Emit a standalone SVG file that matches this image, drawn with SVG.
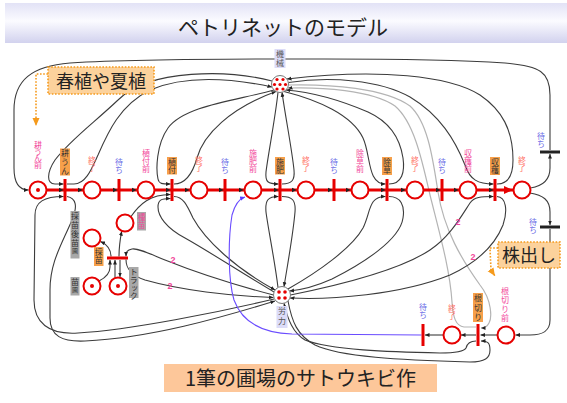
<svg xmlns="http://www.w3.org/2000/svg" width="567" height="403" viewBox="0 0 567 403">
<defs>
<linearGradient id="tg" x1="0" y1="0" x2="0" y2="1"><stop offset="0" stop-color="#e2e2f6"/><stop offset="0.45" stop-color="#fbfbff"/><stop offset="1" stop-color="#d2d2ee"/></linearGradient>
<marker id="ah" viewBox="0 0 8 8" refX="8" refY="4" markerWidth="4.5" markerHeight="4.5" orient="auto" markerUnits="userSpaceOnUse"><path d="M0,0.5L8,4L0,7.5z" fill="#222"/></marker>
<marker id="bh" viewBox="0 0 8 8" refX="8" refY="4" markerWidth="5" markerHeight="5" orient="auto" markerUnits="userSpaceOnUse"><path d="M0,0.5L8,4L0,7.5z" fill="#5a3cff"/></marker>
<marker id="rh" viewBox="0 0 8 8" refX="8" refY="4" markerWidth="9" markerHeight="9" orient="auto" markerUnits="userSpaceOnUse"><path d="M0,0.5L8,4L0,7.5z" fill="#e60000"/></marker>
<marker id="oh" viewBox="0 0 8 8" refX="8" refY="4" markerWidth="8" markerHeight="8" orient="auto" markerUnits="userSpaceOnUse"><path d="M0,0.5L8,4L0,7.5z" fill="#f59a1c"/></marker>
<path id="tri" d="M0,0L-4.5,-2.2L-4.5,2.2z" fill="#222"/>
<style>
.c{fill:none;stroke:#3c3c3c;stroke-width:1.1}
.m{marker-end:url(#ah)}
.g{fill:none;stroke:#b4b4b4;stroke-width:1.2;marker-end:url(#ah)}
.pl{fill:#fff;stroke:#e60000;stroke-width:2}
.tb{stroke:#e60000;stroke-width:3}
.kb{stroke:#222;stroke-width:3}
.lb{font-family:"Noto Sans CJK JP","Noto Sans CJK SC",sans-serif;font-size:8px;writing-mode:vertical-rl;text-anchor:start}
.pk{fill:#f2479a}.sl{fill:#ff7266}.bl{fill:#6b6be6}.dk{fill:#333}.gy{fill:#555}
.ob{fill:#f7a04a}.gb{fill:#a8a8a8}.hb{fill:#dcdcf8}
.hub{fill:#fff;stroke:#777;stroke-width:1}
.tok{fill:#e60000}
.wt{font-family:"Liberation Sans",sans-serif;font-size:9px;font-weight:bold;fill:#f2479a;text-anchor:middle}
.big{font-family:"Noto Sans CJK JP",sans-serif;fill:#222;text-anchor:middle}
.dot{fill:none;stroke:#f59a1c;stroke-width:1.6;stroke-dasharray:1.6 1.6}
</style>
</defs>

<g id="title">
<rect x="5" y="3" width="562" height="40" fill="url(#tg)"/>
<text class="big" x="283" y="35" font-size="21">ペトリネットのモデル</text>
</g>

<g id="connectors">
<path class="c m" d="M530.5,188 C543,186 550,180 550,168 L550,154"/>
<path class="c m" d="M550,150 L550,95 C550,72 540,66 505,63 C430,58 350,59 280,59 C200,59 120,60 70,63 C32,66 14,80 14,110 L14,168 C14,184 20,190 28.5,190"/>
<path class="c m" d="M530,193 C543,195 550,200 550,212 L550,225"/>
<path class="c m" d="M550,229 L550,320 C550,331 543,335 530,335 L515.5,335"/>
<path class="c m" d="M272,81 C230,70 150,68 118,100 C95,122 70,140 55,160 C47,172 46,184 55,184 L63.5,184"/>
<path class="c m" d="M67,184 L74,184 C86,184 92,168 98,155 C108,132 120,105 150,90 C185,75 230,78 272,87"/>
<path class="c m" d="M274,90 C240,100 185,105 168,128 C156,145 156,170 158,179 C159,184 162,184 170.5,184"/>
<path class="c m" d="M174,184 C186,184 193,172 197,158 C203,135 230,108 276,91.5"/>
<path class="c m" d="M278,92.3 C275,120 268,155 266,172 C265,182 268,184 278.5,184"/>
<path class="c m" d="M282,184 C292,184 295,180 294,170 C292,150 286,120 282,92.3"/>
<path class="c m" d="M284,91.5 C318,100 352,115 363,138 C371,155 367,184 385.5,184"/>
<path class="c m" d="M389,184 C402,184 405,172 403,158 C400,138 390,122 368,112 C340,100 310,92 286,90"/>
<path class="c m" d="M288.5,82.5 C330,76 380,80 410,97 C440,115 455,140 465,165 C470,180 478,184 493.5,184"/>
<path class="c m" d="M497,184 C508,184 513,175 513,160 C513,130 502,110 480,95 C450,76 380,68 287,79"/>
<path class="g" d="M476,327 L464,327 C456,326 453,318 452,302 C450,270 440,235 430,195 C422,160 414,122 395,106 C372,90 320,87 288,88"/>
<path class="g" d="M288.5,85 C330,84 385,88 410,106 C428,122 433,160 438,192 C444,230 462,260 480,285 C492,300 492,318 489,323 C487,327 485,328 481,328"/>
<path class="c m" d="M278,287.5 C275,262 268,228 266,212 C265,200 268,196.5 278.5,196.5"/>
<path class="c m" d="M282,196.5 C292,196.5 296,200 295,212 C293,235 288,262 284,286.7"/>
<path class="c m" d="M274,292 C240,272 210,252 185,238 C166,228 158,216 158,207 C158,200 161,198.5 170.5,198.5"/>
<path class="c m" d="M174,196.5 C183,196.5 187,205 193,218 C205,240 235,268 275,290"/>
<path class="c m" d="M274,299 C220,312 130,330 78,333 C48,335 34,322 34,300 L35,215 C35,202 44,196.5 63.5,196.5"/>
<path class="c m" d="M67,196.5 C76,198 78,206 72,220 C62,244 50,262 50,290 L50,318 C50,336 62,342 85,341 C150,338 220,318 275,301"/>
<path class="c m" d="M273.5,295 C235,285 195,272 165,260 C148,253 138,248 132,249 C127,250 126,252 126,256.3"/>
<path class="c m" d="M126,259.5 C126,268 130,275 145,280 C180,290 230,296 273.5,297.5"/>
<path class="c m" d="M288,289 C318,272 352,248 363,228 C371,212 368,196.5 385.5,196.5"/>
<path class="c m" d="M389,196.5 C401,196.5 405,206 403,218 C400,240 362,264 332,279 C312,288 300,290 289.5,291"/>
<path class="c m" d="M290.5,295 C340,285 400,270 430,250 C450,237 462,215 470,203 C474,197 481,196.5 493.5,196.5"/>
<path class="c m" d="M497,196.5 C506,197 508,210 503,225 C495,245 478,262 450,275 C400,295 330,300 290,298"/>
<path class="c m" d="M476,341 C470,341 467,344 466,348 C464,352 455,353 440,353 C390,352 330,350 305,340 C293,333 288,320 284,303.3"/>
<path class="c m" d="M288,301 C292,322 297,335 315,345 C340,357 400,360 470,362 C485,362 490,358 490,350 C490,343 488,341 481,341"/>
<text class="wt" x="173" y="263">2</text>
<text class="wt" x="170" y="289">2</text>
<text class="wt" x="458" y="225">2</text>
<text class="wt" x="473" y="260">2</text>
<path class="c m" d="M99,281 C105,278 110,273 110,267 L110,260"/>
<path class="c m" d="M115,277.5 L115,260"/>
<path class="c m" d="M120,260 L120,277"/>
<path class="c m" d="M111,256.5 C111,250 108,245 100.5,241.5"/>
<path class="c m" d="M119,256.5 C119,248 120,240 121.7,231.2"/>
<path class="c m" d="M131,216.5 C140,204 150,194.5 170.5,194.5"/>
<path class="c m" d="M497,335 L480.5,335"/>
<path class="c m" d="M476,335 L461,335"/>
<path class="c m" d="M443,335 L425,335"/>
<path fill="none" stroke="#6a4cff" stroke-width="1.1" marker-end="url(#bh)" d="M421.5,335 L292,334 C262,333 242,322 234,300 C228,280 228,240 232,215 C235,204 239,199 245,197"/>
<line x1="47" y1="190" x2="513" y2="190" stroke="#e60000" stroke-width="3" marker-end="url(#rh)"/>
<use href="#tri" x="63.5" y="190"/><use href="#tri" x="117.5" y="190"/><use href="#tri" x="170.5" y="190"/>
<use href="#tri" x="223.5" y="190"/><use href="#tri" x="278.5" y="190"/><use href="#tri" x="332.5" y="190"/>
<use href="#tri" x="385.5" y="190"/><use href="#tri" x="440.5" y="190"/><use href="#tri" x="493.5" y="190"/>
<use href="#tri" x="82.5" y="190"/><use href="#tri" x="136.5" y="190"/><use href="#tri" x="189.5" y="190"/>
<use href="#tri" x="243.5" y="190"/><use href="#tri" x="296.5" y="190"/><use href="#tri" x="350.5" y="190"/>
<use href="#tri" x="405.5" y="190"/><use href="#tri" x="458.5" y="190"/>
</g>

<g id="p1"><circle class="pl" cx="38" cy="190" r="8.5"/><circle class="tok" cx="38" cy="190" r="2"/>
<text class="lb pk" x="38" y="141" style="letter-spacing:-1.5px">耕うん前</text></g>
<g id="p2"><circle class="pl" cx="92" cy="190" r="8.5"/><text class="lb sl" x="92" y="156">終了</text></g>
<g id="p3"><circle class="pl" cx="146" cy="190" r="8.5"/><text class="lb pk" x="146" y="149">植付前</text></g>
<g id="p4"><circle class="pl" cx="199" cy="190" r="8.5"/><text class="lb sl" x="199" y="156">終了</text></g>
<g id="p5"><circle class="pl" cx="253" cy="190" r="8.5"/><text class="lb pk" x="253" y="149">施肥前</text></g>
<g id="p6"><circle class="pl" cx="306" cy="190" r="8.5"/><text class="lb sl" x="306" y="156">終了</text></g>
<g id="p7"><circle class="pl" cx="360" cy="190" r="8.5"/><text class="lb pk" x="360" y="149">除草前</text></g>
<g id="p8"><circle class="pl" cx="415" cy="190" r="8.5"/><text class="lb sl" x="415" y="156">終了</text></g>
<g id="p9"><circle class="pl" cx="468" cy="190" r="8.5"/><text class="lb pk" x="468" y="149">収穫前</text></g>
<g id="p10"><circle class="pl" cx="522" cy="190" r="8.5"/><text class="lb sl" x="522" y="156">終了</text></g>

<g id="t1"><line class="tb" x1="65" y1="179" x2="65" y2="201"/><rect class="ob" x="60" y="148.5" width="10" height="27"/>
<text class="lb dk" x="65" y="149" style="letter-spacing:1px">耕うん</text></g>
<g id="t2"><line class="tb" x1="119" y1="179" x2="119" y2="201"/><text class="lb bl" x="119" y="158">待ち</text></g>
<g id="t3"><line class="tb" x1="172" y1="179" x2="172" y2="201"/><rect class="ob" x="167" y="157" width="10" height="17.5"/>
<text class="lb dk" x="172" y="157.5">植付</text></g>
<g id="t4"><line class="tb" x1="225" y1="179" x2="225" y2="201"/><text class="lb bl" x="225" y="158">待ち</text></g>
<g id="t5"><line class="tb" x1="280" y1="179" x2="280" y2="201"/><rect class="ob" x="275" y="157" width="10" height="17.5"/>
<text class="lb dk" x="280" y="157.5">施肥</text></g>
<g id="t6"><line class="tb" x1="334" y1="179" x2="334" y2="201"/><text class="lb bl" x="334" y="158">待ち</text></g>
<g id="t7"><line class="tb" x1="387" y1="179" x2="387" y2="201"/><rect class="ob" x="382" y="157" width="10" height="18"/>
<text class="lb dk" x="387" y="158">除草</text></g>
<g id="t8"><line class="tb" x1="442" y1="179" x2="442" y2="201"/><text class="lb bl" x="442" y="158">待ち</text></g>
<g id="t9"><line class="tb" x1="495" y1="179" x2="495" y2="201"/><rect class="ob" x="490" y="157" width="10" height="18"/>
<text class="lb dk" x="495" y="158">収穫</text></g>

<g id="t10"><line class="kb" x1="540" y1="152" x2="560" y2="152"/><text class="lb bl" x="541" y="132">待ち</text></g>
<g id="t11"><line class="kb" x1="540" y1="227" x2="560" y2="227"/><text class="lb bl" x="533" y="218">待ち</text></g>

<g id="p11"><circle class="pl" cx="506" cy="335" r="8.5"/><text class="lb pk" x="505" y="287" style="letter-spacing:1px">根切り前</text></g>
<g id="t12"><line class="tb" x1="478" y1="324" x2="478" y2="346"/><rect class="ob" x="473" y="293" width="10" height="29"/>
<text class="lb dk" x="478" y="294" style="letter-spacing:1.5px">根切り</text></g>
<g id="p12"><circle class="pl" cx="452" cy="335" r="8.5"/><text class="lb sl" x="452" y="304">終了</text></g>
<g id="t13"><line class="tb" x1="423" y1="324" x2="423" y2="346"/><text class="lb bl" x="423" y="303">待ち</text></g>

<g id="p13"><circle class="pl" cx="92" cy="238" r="8.5"/><rect class="gb" x="70.5" y="211" width="9" height="47.5"/>
<text class="lb dk" x="75" y="212" style="letter-spacing:1px">採苗後苗<tspan font-size="6">圃</tspan></text></g>
<g id="p14"><circle class="pl" cx="125" cy="223" r="8.5"/><rect class="gb" x="137" y="212" width="9" height="18.5"/>
<text class="lb pk" x="141.5" y="213">種苗</text></g>
<g id="p15"><circle class="pl" cx="92" cy="286" r="8.5"/><circle class="tok" cx="92" cy="286" r="2"/><rect class="gb" x="70.5" y="277" width="9" height="18.5"/>
<text class="lb dk" x="75" y="278" style="letter-spacing:1px">苗<tspan font-size="6">圃</tspan></text></g>
<g id="p16"><circle class="pl" cx="118" cy="286" r="8.5"/><circle class="tok" cx="118" cy="286" r="2"/><rect class="gb" x="129" y="267" width="9.5" height="31"/>
<text class="lb dk" x="133.8" y="268" font-size="7.5">トラック</text></g>
<g id="t14"><line class="tb" x1="107" y1="258" x2="128" y2="258"/><rect class="ob" x="94" y="247" width="9.5" height="19"/>
<text class="lb dk" x="98.8" y="248">採苗</text></g>

<g id="machine"><circle class="hub" cx="280" cy="84" r="8.5"/>
<circle class="tok" cx="277" cy="79.5" r="1.6"/><circle class="tok" cx="283" cy="79.5" r="1.6"/><circle class="tok" cx="274.5" cy="84.5" r="1.6"/><circle class="tok" cx="280" cy="84.5" r="1.6"/><circle class="tok" cx="285.5" cy="84.5" r="1.6"/><circle class="tok" cx="277" cy="89" r="1.6"/><circle class="tok" cx="283" cy="89" r="1.6"/>
<rect class="hb" x="274.5" y="49" width="11" height="19"/><text class="lb gy" x="280" y="50" style="letter-spacing:1px">機械</text></g>
<g id="labor"><circle class="hub" cx="282" cy="295" r="8.5"/>
<circle class="tok" cx="279" cy="292" r="1.8"/><circle class="tok" cx="285" cy="292" r="1.8"/><circle class="tok" cx="279" cy="298" r="1.8"/><circle class="tok" cx="285" cy="298" r="1.8"/>
<rect class="hb" x="276.5" y="306" width="11" height="22"/><text class="lb gy" x="282" y="307" style="letter-spacing:2px">労力</text></g>

<g id="note1"><path class="dot" d="M48,74 L36,74 L36,126" marker-end="url(#oh)"/>
<rect x="48" y="67" width="106" height="27" fill="#fcd29c" stroke="#f59a1c" stroke-width="1.6" stroke-dasharray="1.6 1.6"/>
<text class="big" x="101" y="87.5" font-size="18">春植や夏植</text></g>
<g id="note2"><path class="dot" d="M498,248 L490,248 L491,270 L495,276" marker-end="url(#oh)"/>
<rect x="498" y="242" width="62" height="26" fill="#fcd29c" stroke="#f59a1c" stroke-width="1.6" stroke-dasharray="1.6 1.6"/>
<text class="big" x="529" y="262" font-size="18">株出し</text></g>
<g id="caption"><rect x="164" y="364" width="273" height="28" fill="#fdc79a"/>
<text class="big" x="300.5" y="385.5" font-size="20">1筆の圃場のサトウキビ作</text></g>
</svg>
